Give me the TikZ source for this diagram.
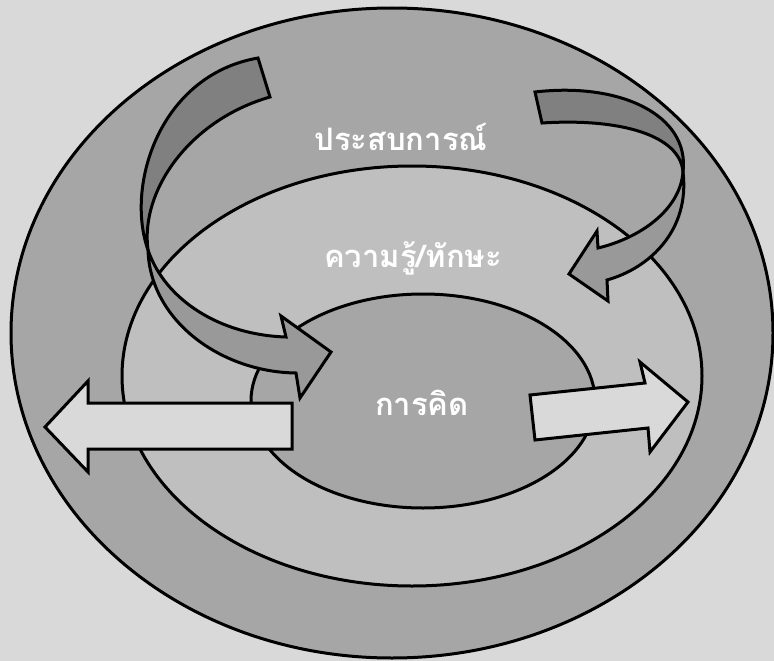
\documentclass[tikz,border=0pt]{standalone}
\usepackage{fontspec}
\newfontfamily\thaifont[Script=Thai]{Loma}
\usepackage{xcolor}
\definecolor{bggrey}{RGB}{217,217,217}
\definecolor{ringgrey}{RGB}{166,166,166}
\definecolor{midgrey}{RGB}{191,191,191}
\definecolor{ribbondark}{RGB}{128,128,128}
\definecolor{ribbonlight}{RGB}{153,153,153}
\definecolor{palegrey}{RGB}{217,217,217}

\begin{document}
\begin{tikzpicture}[x=1pt, y=-1pt, line width=3pt,
    ringlabel/.style={text=white, inner sep=0pt, anchor=base,
      font=\thaifont\bfseries\fontsize{31}{36}\selectfont}]
        % Background and frame
        \fill[bggrey] (0,0) rectangle (774,661);
        \useasboundingbox (0,0) rectangle (774,661);
        % Nested rings
        \filldraw[fill=ringgrey] (392,333) ellipse [x radius=381, y radius=325];
        \filldraw[fill=midgrey] (412,376) ellipse [x radius=290, y radius=210];
        \filldraw[fill=ringgrey] (423,401) ellipse [x radius=172, y radius=107];
        % Left ribbon arrow (twisted)
        \filldraw[fill=ribbondark] (258,58) .. controls (160,75) and (125,185) .. (148,250)
          .. controls (140,190) and (190,120) .. (270,97) -- cycle;
        \filldraw[fill=ribbonlight] (148,250) .. controls (165,300) and (220,335) .. (286,337)
          -- (281,316) -- (331,352) -- (300,398) -- (296,373)
          .. controls (220,372) and (150,320) .. (148,250) -- cycle;
        % Right ribbon arrow (twisted)
        \filldraw[fill=ribbondark] (535,92) .. controls (620,82) and (690,115) .. (683,172)
          .. controls (680,135) and (620,118) .. (542,123) -- cycle;
        \filldraw[fill=ribbonlight] (683,172) .. controls (680,210) and (640,238) .. (598,248)
          -- (597,231) -- (569,274) -- (608,301) -- (607,280)
          .. controls (650,268) and (690,230) .. (683,172) -- cycle;
        % Straight block arrows
        \filldraw[fill=palegrey] (292,403) -- (88,403) -- (88,381) -- (45,427)
          -- (88,472) -- (88,449) -- (292,449) -- cycle;
        \filldraw[fill=palegrey] (530,395) -- (645,383) -- (640,362) -- (688,402)
          -- (650,452) -- (648,428) -- (535,440) -- cycle;
        % Labels
        \node[ringlabel] (experience) at (401,150) {ประสบการณ์};
        \node[ringlabel] (knowledge) at (413,267) {ความรู้/ทักษะ};
        \node[ringlabel] (thinking) at (422,415) {การคิด};
      \end{tikzpicture}
\end{document}
